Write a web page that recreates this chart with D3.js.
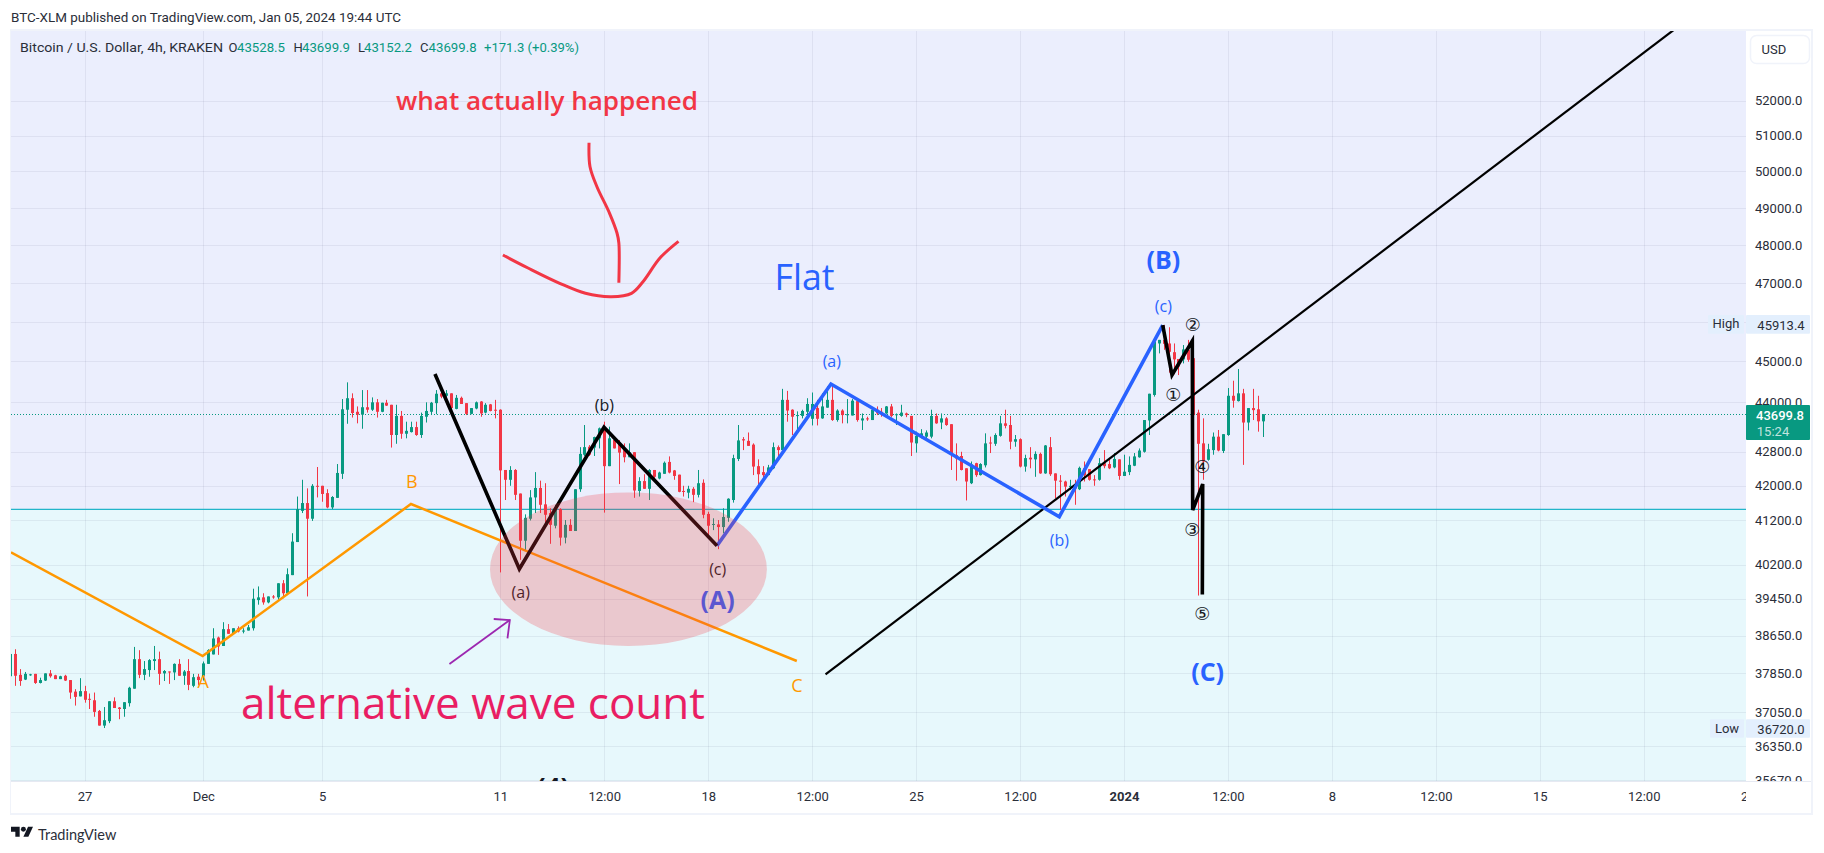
<!DOCTYPE html>
<html><head><meta charset="utf-8">
<script src="https://d3js.org/d3.v7.min.js"></script>
<style>
html,body{margin:0;padding:0;background:#fff;}
svg{display:block;}
text{font-family:Roboto,sans-serif;fill:#131722;font-size:13px;}
.axis text{font-family:Roboto,sans-serif;font-size:13px;fill:#2a2e39;}
.axis .domain,.axis line{display:none;}
.hdr{fill:#2a2e39;font-size:13px;}
.green{fill:#089981;}
.what{font-family:"Open Sans",sans-serif;font-size:25px;font-weight:600;fill:#f23645;}
.alt{font-family:"Open Sans",sans-serif;font-size:44px;fill:#e91e63;}
.flat{font-family:"Open Sans",sans-serif;font-size:36px;fill:#2962ff;}
.wb{font-family:"Open Sans",sans-serif;font-size:16px;fill:#131722;}
.wblue{font-family:"Open Sans",sans-serif;font-size:16px;fill:#2962ff;}
.wB{font-family:"Open Sans",sans-serif;font-size:25px;font-weight:700;fill:#2962ff;}
.wK{font-family:"Open Sans",sans-serif;font-size:26px;font-weight:700;fill:#131722;}
.orange{font-family:"Open Sans",sans-serif;font-size:18px;fill:#ff9800;}
.circ{font-family:"DejaVu Sans",sans-serif;font-size:18px;fill:#131722;}
</style></head><body>
<svg id="c" width="1824" height="853"></svg>
<script>
// ---------- data (4h BTC/USD candles, first candle 156h before 1 Dec 2023 00:00 UTC)
const opens=[37790,38260,37820,37720,37820,37840,37650,37700,37850,37810,
37730,37800,37710,37470,37370,37480,37320,37290,37070,36770,
36860,37270,37140,37110,37230,37530,38150,37820,37920,38110,
38150,37850,37890,37870,38050,37800,37900,37590,37780,37780,
38050,38250,38610,38430,38790,38700,38810,38740,38760,38810,
39420,39480,39370,39500,39480,39790,39570,39970,40710,41420,
41600,41240,42000,42000,41830,41500,41720,42280,43810,44090,
43760,43690,43870,43810,43990,43760,43980,43930,43200,43660,
43230,43270,43390,43200,43640,43760,43970,44210,44150,44210,
43830,44100,43970,43710,43840,44010,43740,43940,43810,43810,
42370,42140,42370,41820,40740,41240,41730,41950,41570,41370,
41080,41460,40810,41100,40960,41920,42730,42920,42900,43120,
43380,42460,43080,42990,42840,42670,42790,41880,42110,41930,
42370,42170,42280,42560,42360,42260,41880,41840,41930,41790,
42070,41350,41110,41110,41050,41260,41670,42630,43100,43060,
42970,42460,42320,42250,42410,42910,42840,44050,43810,43660,
43660,43760,43590,43850,43600,43860,44050,43560,43790,43680,
43670,44020,43550,43600,43560,43810,43760,43720,43890,43680,
43660,43720,43660,43000,43150,43160,43160,43660,43500,43600,
43460,42720,42700,42410,42060,42530,42250,42480,43020,42990,
43180,43480,43440,43040,43100,42450,42660,42620,42750,42290,
42910,42290,42120,42100,41970,42000,41920,42410,42390,42150,
42140,42530,42510,42430,42620,42230,42320,42470,42670,42800,
43550,44170,45450,45540,45450,45230,45060,45050,45290,45080,
43740,43000,42610,42840,43160,42820,43200,44150,44020,44210,
43500,43850,43820,43528.5];
const highs=[38260,38360,37940,37880,37840,37840,37760,37850,37920,37820,
37800,37820,37710,37520,37750,37590,37430,37450,37090,37150,
37270,37350,37150,37250,37570,38410,38340,38110,38150,38430,
38310,37920,37890,38060,38150,37920,38150,37840,37840,38100,
38360,38810,38630,38940,38900,38810,38850,38810,38880,39670,
39720,39570,39500,39530,39790,39860,40120,40910,41750,42140,
41940,42040,42440,42000,41920,41760,42510,44070,44480,44210,
43890,44290,44290,44110,44070,43980,44050,43930,43930,43780,
43520,43520,43520,43740,43990,44000,44290,44290,44290,44210,
44170,44130,43970,43850,44010,44020,43970,43950,44050,43820,
42370,42460,42390,41820,41340,41900,42320,42120,42060,41480,
41560,41480,41210,41230,41920,42910,43440,42960,43160,43380,
43520,43400,43080,43080,43000,43000,42790,42200,42270,42390,
42370,42330,42570,42690,42370,42260,42000,42000,41970,42370,
42150,41400,41250,41210,41480,41710,42730,43440,43150,43260,
43000,42620,42460,42490,43020,42950,44320,44270,43820,43770,
43810,44090,44230,44050,44210,44380,44440,43820,43820,44070,
44070,44050,43720,43640,43850,43890,43850,43900,43950,43720,
43930,43740,43660,43280,43340,43310,43810,43720,43720,43630,
43460,43000,42800,42410,42570,42540,42530,43240,43160,43240,
43660,43810,43660,43200,43120,42730,42910,42810,42780,42960,
43150,42290,42250,42120,42140,42140,42450,42570,42390,42250,
42650,42840,42650,42770,42620,42730,42690,42770,42880,43560,
44200,45540,45540,45913.4,45860,45450,45060,45410,45540,45080,
43810,43600,42990,43260,43320,43220,44340,44520,44810,44320,
43850,44320,44150,43699.9];
const lows=[37790,37590,37590,37710,37800,37630,37640,37690,37760,37730,
37730,37690,37320,37180,37370,37240,37110,36950,36770,36720,
36820,37130,36900,36950,37160,37530,37750,37710,37780,37920,
37610,37690,37630,37710,37800,37610,37500,37560,37610,37700,
38050,38250,38240,38430,38690,38690,38720,38700,38760,38760,
39320,39320,39350,39450,39420,39460,39530,39970,40710,41370,
39500,41190,41730,41630,41480,41460,41720,42160,43470,43620,
43480,43350,43740,43780,43620,43750,43900,42900,42990,43110,
43120,43260,43180,43130,43500,43680,43700,44090,44110,43720,
43820,43950,43680,43700,43820,43640,43720,43770,43600,40030,
41670,42000,41670,40310,40530,41200,41370,41370,41140,40670,
41020,40630,40680,40960,40960,41860,42700,42700,42700,42880,
41380,42460,42880,42040,42550,42670,41720,41750,41930,41670,
42175,42150,42280,42290,42140,41850,41750,41710,41620,41730,
41250,40830,40980,40550,40910,41170,41610,42580,42840,42940,
42250,41980,42170,42250,42390,42700,42840,43520,43200,43320,
43600,43560,43430,43430,43590,43860,43540,43520,43480,43480,
43670,43520,43320,43540,43560,43680,43640,43710,43630,43440,
43640,43630,42700,42780,43120,43120,43120,43470,43340,43420,
42370,42120,42360,41660,42040,42210,42240,42430,42770,42940,
43160,43360,42860,42920,42430,42330,42410,42210,42280,42280,
42230,41710,41440,41750,41900,41560,41900,42100,42120,42000,
42120,42410,42390,42410,42140,42230,42250,42460,42660,42780,
43200,44130,45200,45290,44720,44680,44660,44950,44990,43680,
39520,42140,42590,42730,42810,42770,43180,43860,44010,42490,
43310,43560,43280,43152.2];
const closes=[38260,37800,37690,37840,37830,37650,37710,37850,37790,37730,
37790,37700,37450,37360,37480,37300,37300,37050,36770,36880,
37270,37130,37110,37250,37550,38150,37820,37940,38130,38150,
37840,37900,37880,38050,37800,37890,37610,37770,37710,38060,
38340,38590,38420,38790,38690,38810,38740,38760,38830,39450,
39480,39370,39500,39480,39790,39570,39990,40720,41460,41600,
41240,42000,41980,41810,41500,41740,42300,43820,44090,43730,
43690,43870,43810,43990,43760,43980,43910,43200,43660,43230,
43300,43390,43200,43660,43780,43980,44200,44130,44210,43850,
44100,43950,43710,43850,43990,43720,43930,43780,43790,42360,
42140,42370,41790,40740,41260,41730,41950,41560,41330,41100,
41440,40810,41100,40960,41920,42750,42910,42730,43150,43360,
42460,43120,42880,42780,42670,42790,41890,42110,41930,42370,
42210,42310,42540,42310,42230,41860,41860,41930,41790,42060,
41330,41080,41120,41050,41280,41700,42650,43070,43070,42940,
42450,42270,42250,42430,42910,42840,44050,43790,43640,43680,
43780,43950,43950,43590,43890,44050,43560,43790,43680,43700,
44030,43560,43600,43580,43810,43720,43750,43890,43660,43700,
43740,43680,43020,43180,43240,43260,43660,43480,43600,43440,
42730,42640,42370,42100,42500,42250,42510,43000,43000,43200,
43480,43420,43040,43100,42450,42650,42620,42750,42290,42950,
42270,42120,42100,41980,42000,41940,42420,42250,42140,42140,
42530,42460,42410,42630,42230,42330,42490,42690,42830,43560,
44200,45500,45540,45440,45240,45050,44870,45300,45040,43680,
42990,42570,42860,43160,42830,43220,44150,44030,44210,43500,
43850,43800,43528.5,43699.8];

const priceTicks=[52000,51000,50000,49000,48000,47000,45000,44000,42800,42000,41200,40200,39450,38650,37850,37050,36350,35670];
const gridOnlyPrice=[46000];
const timeTicks=["2023-11-27","2023-12-01","2023-12-05","2023-12-11","2023-12-14T12:00Z","2023-12-18","2023-12-21T12:00Z","2023-12-25","2023-12-28T12:00Z","2024-01-01","2024-01-04T12:00Z","2024-01-08","2024-01-11T12:00Z","2024-01-15","2024-01-18T12:00Z","2024-01-22"];
const timeLabels=["27","Dec","5","11","12:00","18","12:00","25","12:00","2024","12:00","8","12:00","15","12:00","22"];

// drawings as [hours since 1 Dec 2023 00:00 UTC, price]
const orangeWave=[[-155.4,40478],[-0.5,38216],[167.8,41578],[479.6,38111]];
const blackWaveA=[[187.2,44686],[255.4,40105],[323.8,43385],[415.1,40627]];
const blueWaveB=[[415.1,40627],[507.2,44439],[691.7,41285],[775.3,45913]];
const blackWaveC=[[775.3,45913],[782.8,44661],[799.2,45511],[799.5,41439],[807.6,42041],[807.3,39545]];
const trendLine=[[502.8,37828],[1188.2,54080]];
const redStem=[[311.7,50802],[312.5,50131],[318.1,49578],[328.3,48852],[334.3,48321],[335.8,48054],[335.8,47008]];
const redCurve=[[242.1,47735],[262.4,47392],[288,46992],[308.8,46732],[329.8,46644],[346,46732],[355.3,47033],[369,47656],[384,48099]];
const purpleArrow=[[198.9,38047],[247.7,38987]];
const purpleHead=[[234.7,39009],[247.7,38987],[245.8,38594]];
const ellipseBox=[[231.7,41847],[455.4,38429]];
const basePrice=41456, lastPrice=43699.8, highPrice=45913.4, lowPrice=36720.0;

// ---------- scales
const panel={l:11,t:31,r:1746,b:781};
const T0=Date.UTC(2023,11,1);
const at=h=>new Date(T0+h*3600e3);
const x=d3.scaleUtc().domain([T0,Date.UTC(2024,0,22)]).range([203.3,1747.7]);
const y=d3.scaleLog().domain([36350,52000]).range([746.3,100.7]);
const svg=d3.select("#c");

// frame
svg.append("rect").attr("x",10).attr("y",29).attr("width",1803).attr("height",786).attr("fill","#f0f3fa");
svg.append("rect").attr("x",11).attr("y",31).attr("width",1800).attr("height",782).attr("fill","#fff");

const defs=svg.append("defs");
defs.append("clipPath").attr("id","pc").append("rect").attr("x",panel.l).attr("y",panel.t).attr("width",panel.r-panel.l).attr("height",panel.b-panel.t);
defs.append("clipPath").attr("id","ya").append("rect").attr("x",panel.r).attr("y",panel.t).attr("width",66).attr("height",panel.b-panel.t);
defs.append("clipPath").attr("id","xa").append("rect").attr("x",panel.l).attr("y",panel.b).attr("width",panel.r-panel.l).attr("height",32);

const g=svg.append("g").attr("clip-path","url(#pc)");
const yBase=y(basePrice);
g.append("rect").attr("x",panel.l).attr("y",panel.t).attr("width",panel.r-panel.l).attr("height",yBase-panel.t).attr("fill","#ebeefd");
g.append("rect").attr("x",panel.l).attr("y",yBase).attr("width",panel.r-panel.l).attr("height",panel.b-yBase).attr("fill","#e7f8fc");

// grid
const gridC="rgba(42,46,90,0.07)";
g.append("g").selectAll("line").data(priceTicks.concat(gridOnlyPrice)).join("line")
 .attr("x1",panel.l).attr("x2",panel.r).attr("y1",d=>Math.round(y(d))+.5).attr("y2",d=>Math.round(y(d))+.5).attr("stroke",gridC);
g.append("g").selectAll("line").data(timeTicks).join("line")
 .attr("y1",panel.t).attr("y2",panel.b).attr("x1",d=>Math.round(x(new Date(d)))+.5).attr("x2",d=>Math.round(x(new Date(d)))+.5).attr("stroke",gridC);

// base line and last price line
g.append("line").attr("x1",panel.l).attr("x2",panel.r).attr("y1",yBase).attr("y2",yBase).attr("stroke","#22b5c9").attr("stroke-width",1.2);
g.append("line").attr("x1",panel.l).attr("x2",panel.r).attr("y1",Math.round(y(lastPrice))+.5).attr("y2",Math.round(y(lastPrice))+.5)
 .attr("stroke","#089981").attr("stroke-dasharray","1 2");

// candles
const bars=opens.map((o,i)=>({t:at(-156+4*i),o,h:highs[i],l:lows[i],c:closes[i]}));
const up="#089981",dn="#f23645";
const cg=g.append("g");
cg.selectAll("line").data(bars).join("line")
 .attr("x1",d=>Math.round(x(d.t))+.5).attr("x2",d=>Math.round(x(d.t))+.5)
 .attr("y1",d=>y(d.h)).attr("y2",d=>y(d.l))
 .attr("stroke",d=>d.c>=d.o?up:dn).attr("stroke-width",1);
cg.selectAll("rect").data(bars).join("rect")
 .attr("x",d=>Math.round(x(d.t))-1).attr("width",3)
 .attr("y",d=>y(Math.max(d.o,d.c))).attr("height",d=>Math.max(1,Math.abs(y(d.o)-y(d.c))))
 .attr("fill",d=>d.c>=d.o?up:dn);

// drawings
const ln=d3.line().x(d=>x(at(d[0]))).y(d=>y(d[1]));
const sm=d3.line().x(d=>x(at(d[0]))).y(d=>y(d[1])).curve(d3.curveCatmullRom);
function stroke(path,c,w){g.append("path").attr("d",path).attr("fill","none").attr("stroke",c).attr("stroke-width",w).attr("stroke-linejoin","miter");}
stroke(ln(orangeWave),"#ff9800",2.5);
stroke(ln(trendLine),"#000",2.2);
stroke(ln(blueWaveB),"#2962ff",3.6);
stroke(ln(blackWaveA),"#000",3.6);
stroke(ln(blackWaveC),"#000",3.6);
stroke(sm(redStem),"#f23645",3);
stroke(sm(redCurve),"#f23645",3);
stroke(ln(purpleArrow),"#9c27b0",1.8);
stroke(ln(purpleHead),"#9c27b0",1.8);

// labels
function lab(parent,s,px,py,cls,len){
  const t=parent.append("text").attr("x",px).attr("y",py).attr("text-anchor","middle").attr("dominant-baseline","central").attr("class",cls).text(s);
  if(len)t.attr("textLength",len).attr("lengthAdjust","spacingAndGlyphs");
  return t;
}
lab(g,"(a)",520.7,592,"wb");
lab(g,"(b)",604.3,404.5,"wb");
lab(g,"(c)",717.7,569,"wb");
lab(g,"(A)",717.6,599,"wB");
lab(g,"(4)",553,787,"wK");

// ellipse on top of what it covers
const ex1=x(at(ellipseBox[0][0])),ex2=x(at(ellipseBox[1][0])),ey1=y(ellipseBox[0][1]),ey2=y(ellipseBox[1][1]);
g.append("ellipse").attr("cx",(ex1+ex2)/2).attr("cy",(ey1+ey2)/2).attr("rx",(ex2-ex1)/2).attr("ry",(ey2-ey1)/2).attr("fill","rgba(242,54,69,0.25)");

lab(g,"A",203.3,681,"orange");
lab(g,"B",411.7,480.5,"orange");
lab(g,"C",796.8,684.5,"orange");
lab(g,"(a)",831.8,360.5,"wblue");
lab(g,"(b)",1059.3,540,"wblue");
lab(g,"(c)",1163.4,306,"wblue");
lab(g,"(B)",1163.4,259,"wB");
lab(g,"(C)",1207.6,671,"wB");
lab(g,"Flat",804.5,276,"flat",60);
lab(g,"what actually happened",547,100,"what",302);
lab(g,"alternative wave count",473,702,"alt",464);
lab(g,"①",1173.3,394.7,"circ");
lab(g,"②",1192.7,324,"circ");
lab(g,"③",1192.3,529.3,"circ");
lab(g,"④",1202.3,466.7,"circ");
lab(g,"⑤",1202.3,613.3,"circ");

// axes
svg.append("g").attr("clip-path","url(#ya)").append("g").attr("class","axis").attr("transform",`translate(${panel.r},0)`)
 .call(d3.axisRight(y).tickValues(priceTicks).tickFormat(d3.format(".1f")).tickSize(0).tickPadding(9));
const xLabelOf=new Map(timeTicks.map((d,i)=>[+new Date(d),timeLabels[i]]));
const xa=svg.append("g").attr("clip-path","url(#xa)").append("g").attr("class","axis").attr("transform",`translate(0,${panel.b})`)
 .call(d3.axisBottom(x).tickValues(timeTicks.map(d=>new Date(d))).tickFormat(d=>xLabelOf.get(+d)).tickSize(0).tickPadding(11));
xa.selectAll("text").style("font-weight",d=>xLabelOf.get(+d)==="2024"?"700":null);
svg.append("line").attr("x1",panel.l).attr("x2",1811).attr("y1",panel.b+.5).attr("y2",panel.b+.5).attr("stroke","#e6e9f2");

// price-axis tags
function tag(bx,by,w,h,c){svg.append("rect").attr("x",bx).attr("y",by).attr("width",w).attr("height",h).attr("fill",c).attr("rx",1);}
tag(1708,315,36,18.7,"#e3effd");tag(1746,315,64,18.7,"#e3effd");
lab(svg,"High",1726,323.5,"hdr");
lab(svg,d3.format(".1f")(highPrice),1781,325,"hdr");
tag(1710,719.3,34,18.4,"#e3effd");tag(1746,719.3,64,18.4,"#e3effd");
lab(svg,"Low",1727,728.5,"hdr");
lab(svg,d3.format(".1f")(lowPrice),1781,729,"hdr");
tag(1746,405,64,35,"#089981");
lab(svg,d3.format(".1f")(lastPrice),1780,415,"hdr").style("fill","#fff").style("font-weight","500");
lab(svg,"15:24",1773,431,"hdr").style("fill","rgba(255,255,255,.75)");
svg.append("rect").attr("x",1750.5).attr("y",35.5).attr("width",59).attr("height",28).attr("rx",6).attr("fill","#fff").attr("stroke","#f0f3fa").attr("stroke-width",1.5);
svg.append("text").attr("x",1761.5).attr("y",49).attr("dominant-baseline","central").attr("class","hdr").text("USD");

// header
svg.append("text").attr("x",11).attr("y",17).attr("dominant-baseline","central").attr("class","hdr").attr("textLength",390).attr("lengthAdjust","spacingAndGlyphs").text("BTC-XLM published on TradingView.com, Jan 05, 2024 19:44 UTC");
const leg=[["Bitcoin / U.S. Dollar, 4h, KRAKEN",20,"hdr",203],["O",228.5,"hdr",0],["43528.5",237,"green",48],["H",293.5,"hdr",0],["43699.9",302,"green",48],["L",358,"hdr",0],["43152.2",364,"green",48],["C",420,"hdr",0],["43699.8",428.6,"green",48],["+171.3 (+0.39%)",484,"green",95]];
leg.forEach(d=>{const t=svg.append("text").attr("x",d[1]).attr("y",47).attr("dominant-baseline","central").attr("class",d[2]).text(d[0]); if(d[3])t.attr("textLength",d[3]).attr("lengthAdjust","spacingAndGlyphs");});

// footer
const logo=svg.append("g").attr("transform","translate(11,823) scale(0.62)").attr("fill","#131722");
logo.append("path").attr("d","M14 22H7V14H0V6h14v16Z M28 22h-8l7.5-16h8L28 22Z");
logo.append("circle").attr("cx",20).attr("cy",10).attr("r",4);
svg.append("text").attr("x",38).attr("y",834).attr("dominant-baseline","central").style("font-family","Lato,sans-serif").style("font-size","14.5px").style("fill","#2a2e39").text("TradingView");
</script></body></html>
